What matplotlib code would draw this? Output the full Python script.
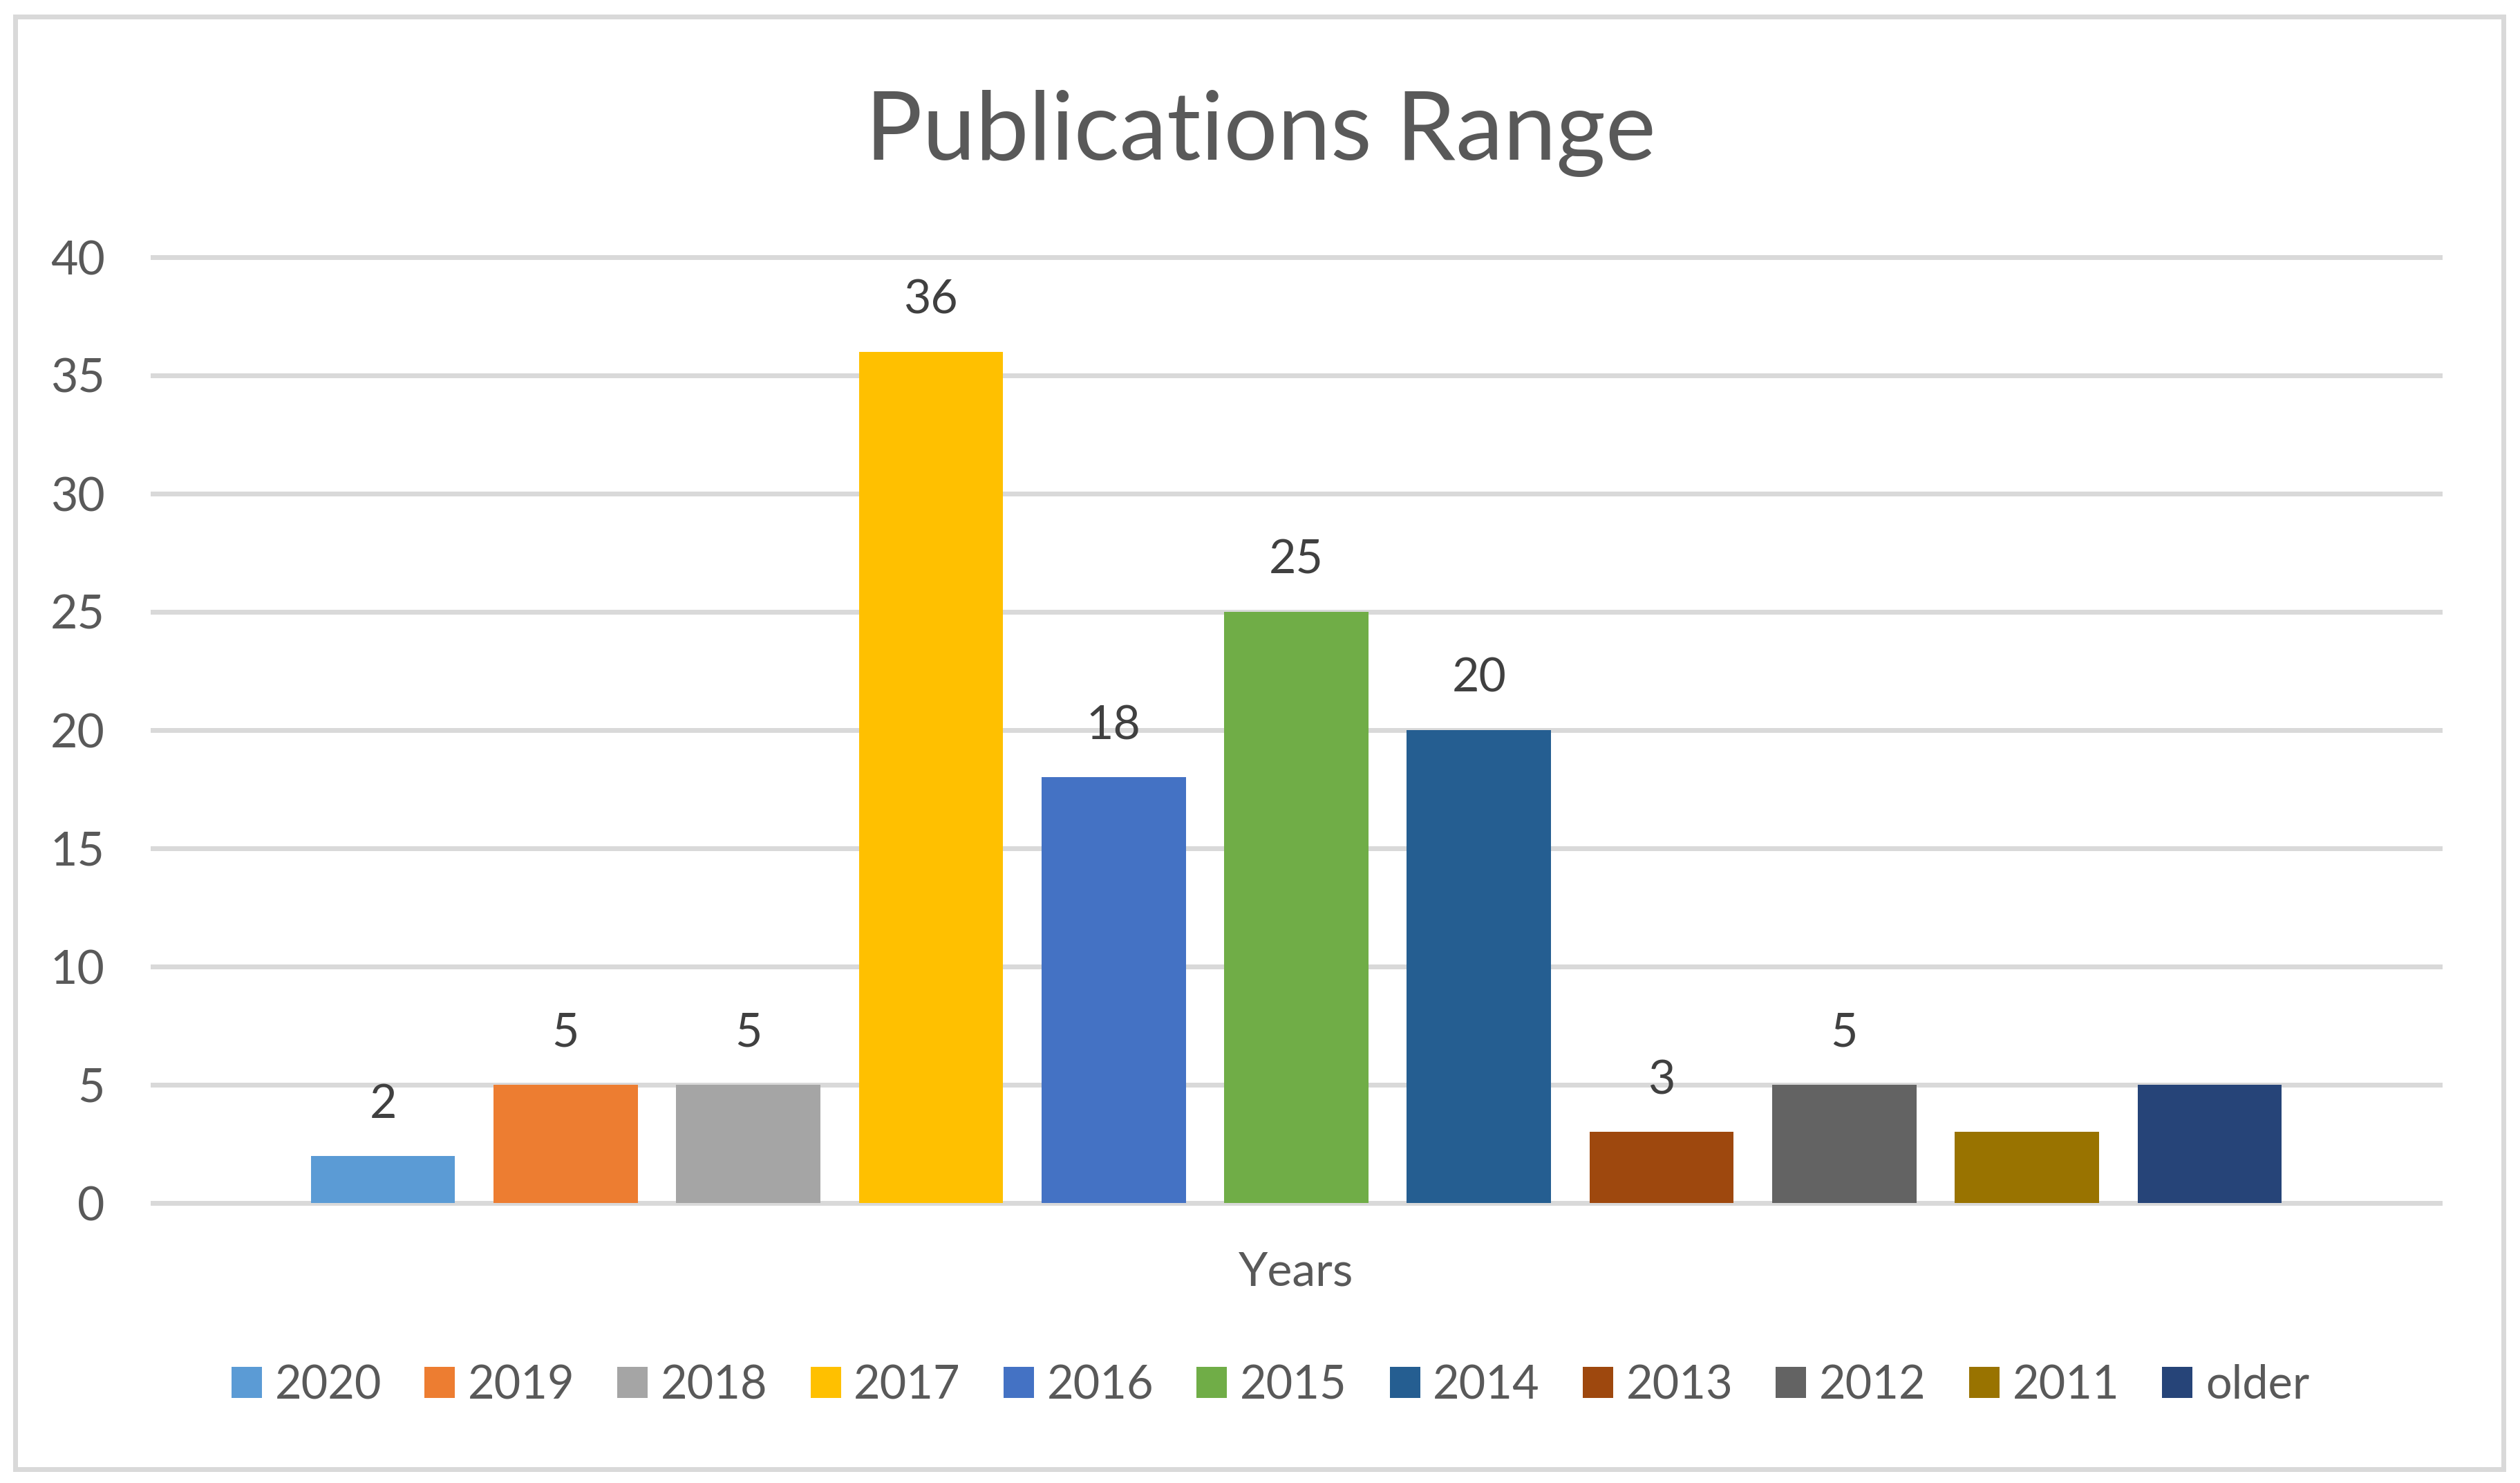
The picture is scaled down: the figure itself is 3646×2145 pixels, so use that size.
import matplotlib
matplotlib.use("Agg")
import matplotlib.pyplot as plt
from matplotlib.patches import Rectangle
import numpy as np

plt.rcParams['font.family'] = ['Lato', 'DejaVu Sans']

# ---- data ----
series_names = ['2020', '2019', '2018', '2017', '2016', '2015', '2014', '2013', '2012', '2011', 'older']
values = [2, 5, 5, 36, 18, 25, 20, 3, 5, 3, 5]
label_shown = [True, True, True, True, True, True, True, True, True, False, False]
colors = ['#5B9BD5', '#ED7D31', '#A5A5A5', '#FFC000', '#4472C4', '#70AD47',
          '#255E91', '#9E480E', '#636363', '#997300', '#264478']
y_ticks = [0, 5, 10, 15, 20, 25, 30, 35, 40]
title = 'Publications Range'
x_title = 'Years'

W, H = 3646, 2145
fig = plt.figure(figsize=(W / 100, H / 100), dpi=100)
fig.patch.set_facecolor('white')

ax_left, ax_right = 221 / W, 3530 / W
ax_bottom, ax_top = 1 - 1740 / H, 1 - 372 / H
ax = fig.add_axes([ax_left, ax_bottom, ax_right - ax_left, ax_top - ax_bottom])

grid_col = '#D9D9D9'
text_col = '#595959'
label_col = '#404040'
lw_px = 7 * 0.72

x = np.arange(len(values))
bw = 0.79
handles = []
for i, (name, v, c) in enumerate(zip(series_names, values, colors)):
    b = ax.bar(x[i], v, width=bw, color=c, label=name, zorder=3)
    handles.append(b)
    if label_shown[i]:
        ax.bar_label(b, labels=[str(v)], padding=31, fontsize=49, color=label_col, zorder=4)

ax.set_xlim(-1.26, len(values) - 1 + 1.26)
ax.set_ylim(0, 40)
ax.set_yticks(y_ticks)
ax.set_yticklabels([str(t) for t in y_ticks])
ax.set_xticks([])
for s in ax.spines.values():
    s.set_visible(False)
ax.yaxis.grid(True, color=grid_col, linewidth=lw_px, zorder=0)
ax.set_axisbelow(True)
for gl in ax.get_ygridlines():
    gl.set_clip_on(False)
ax.tick_params(axis='y', length=0, pad=50, labelsize=49, labelcolor=text_col)
ax.set_facecolor('none')

fig.text(1824 / W, 1 - 231 / H, title, ha='center', va='baseline', fontsize=99, color=text_col)
fig.text(1875 / W, 1 - 1860 / H, x_title, ha='center', va='baseline', fontsize=49, color=text_col)

leg = fig.legend(handles=handles, labels=series_names, loc='center', ncol=len(values),
                 bbox_to_anchor=(1838 / W, 1 - 2004 / H), frameon=False, fontsize=48,
                 handlelength=0.66, handleheight=0.66, handletextpad=0.28, columnspacing=0.93,
                 borderaxespad=0, borderpad=0)
for t in leg.get_texts():
    t.set_color(text_col)

# outer chart border
fig.patches.append(Rectangle((21.5 / W, 1 - 2124.5 / H), (3622 - 21.5) / W, (2124.5 - 24) / H,
                             transform=fig.transFigure, fill=False, edgecolor=grid_col,
                             linewidth=lw_px, zorder=0))

fig.savefig('out.png', dpi=100, facecolor='white')
